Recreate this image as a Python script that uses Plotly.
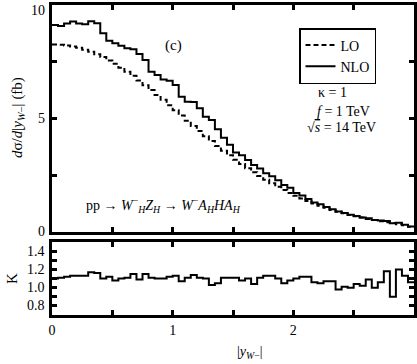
import plotly.graph_objects as go

# bins of |y_W-|
bin_edges = [round(0.05 * i, 2) for i in range(61)]

lo = [8.26, 8.25, 8.22, 8.17, 8.12, 8.03, 7.94, 7.83, 7.71, 7.55,
      7.41, 7.24, 7.06, 6.88, 6.67, 6.46, 6.25, 6.03, 5.82, 5.58,
      5.36, 5.13, 4.90, 4.67, 4.45, 4.22, 4.01, 3.79, 3.58, 3.38,
      3.18, 2.99, 2.81, 2.63, 2.46, 2.30, 2.14, 1.99, 1.85, 1.72,
      1.59, 1.47, 1.36, 1.25, 1.15, 1.06, 0.97, 0.89, 0.82, 0.75,
      0.69, 0.63, 0.57, 0.52, 0.47, 0.43, 0.39, 0.34, 0.29, 0.23]

nlo = [9.12, 9.08, 9.18, 9.27, 9.18, 9.15, 9.28, 9.20, 8.75, 8.43,
       8.31, 8.20, 8.09, 8.05, 7.84, 7.58, 7.06, 6.92, 6.72, 6.66,
       6.48, 5.96, 5.74, 5.72, 5.45, 5.08, 4.93, 4.52, 4.15, 3.84,
       3.50, 3.38, 3.17, 2.95, 2.80, 2.58, 2.45, 2.28, 2.07, 1.95,
       1.72, 1.60, 1.45, 1.30, 1.22, 1.10, 1.00, 0.90, 0.83, 0.76,
       0.70, 0.63, 0.60, 0.53, 0.50, 0.48, 0.38, 0.40, 0.32, 0.24]

k_factor = [1.10, 1.11, 1.12, 1.13, 1.13, 1.13, 1.17, 1.16, 1.10, 1.12,
            1.08, 1.10, 1.11, 1.15, 1.09, 1.15, 1.11, 1.10, 1.10, 1.12,
            1.13, 1.07, 1.11, 1.14, 1.11, 1.10, 1.03, 1.05, 1.11, 1.11,
            1.11, 1.08, 1.10, 1.04, 1.11, 1.13, 1.13, 1.10, 1.05, 1.08,
            1.10, 1.12, 1.12, 1.06, 1.05, 1.07, 1.07, 0.98, 1.01, 1.00,
            1.04, 1.02, 1.09, 1.00, 1.06, 1.18, 0.90, 1.20, 1.13, 1.06]

x_tick_labels = ["0", "", "1", "", "2", "", "3"]
main_y_ticks = [0, 5, 10]
k_y_ticks = [0.8, 1.0, 1.2, 1.4]

FONT = "Liberation Serif"
W, H = 417, 364
ML, MR, MT, MB = 52, 3, 5, 49
PW, PH = W - ML - MR, H - MT - MB
MAIN_DOM = [0.268, 1.0]
K_DOM = [0.0, 0.235]
MAIN_RANGE = [0, 10]
K_RANGE = [0.7, 1.5]


def step(vals):
    return bin_edges, list(vals) + [vals[-1]]


def px(x):
    return (x - ML) / PW


def py(y):
    return (H - MB - y) / PH


fig = go.Figure()
xs, ys = step(lo)
fig.add_trace(go.Scatter(x=xs, y=ys, mode="lines", line_shape="hv", name="LO",
                         line=dict(color="black", width=2, dash="5px,3px"),
                         xaxis="x", yaxis="y"))
xs, ys = step(nlo)
fig.add_trace(go.Scatter(x=xs, y=ys, mode="lines", line_shape="hv", name="NLO",
                         line=dict(color="black", width=2),
                         xaxis="x", yaxis="y"))
xs, ys = step(k_factor)
fig.add_trace(go.Scatter(x=xs, y=ys, mode="lines", line_shape="hv", showlegend=False,
                         line=dict(color="black", width=2),
                         xaxis="x2", yaxis="y2"))

axis_common = dict(showline=True, linecolor="black", linewidth=3, mirror="allticks",
                   ticks="inside", tickcolor="black", tickwidth=2.5, ticklen=5,
                   showgrid=False, zeroline=False, automargin=False,
                   tickfont=dict(family=FONT, size=14, color="black"))

fig.update_layout(
    width=W, height=H,
    margin=dict(l=ML, r=MR, t=MT, b=MB),
    paper_bgcolor="white", plot_bgcolor="white",
    font=dict(family=FONT, size=14, color="black"),
    xaxis=dict(range=[0, 3], domain=[0, 1], anchor="y", showticklabels=False,
               tickvals=[0, 0.5, 1, 1.5, 2, 2.5, 3], **axis_common),
    yaxis=dict(range=MAIN_RANGE, domain=MAIN_DOM, anchor="x", showticklabels=False,
               tickvals=[0, 2.5, 5, 7.5, 10], **axis_common),
    xaxis2=dict(range=[0, 3], domain=[0, 1], anchor="y2",
                tickvals=[0, 0.5, 1, 1.5, 2, 2.5, 3], ticktext=x_tick_labels,
                **axis_common),
    yaxis2=dict(range=K_RANGE, domain=K_DOM, anchor="x2", showticklabels=False,
                tickvals=[0.8, 0.9, 1.0, 1.1, 1.2, 1.3, 1.4],
                **axis_common),
    legend=dict(x=px(299), y=py(28), xanchor="left", yanchor="top",
                bgcolor="white", bordercolor="black", borderwidth=1.5,
                font=dict(family=FONT, size=14, color="black"),
                tracegroupgap=0, itemwidth=30),
)


def dom_y(v, dom, rng):
    return dom[0] + (v - rng[0]) / (rng[1] - rng[0]) * (dom[1] - dom[0])


# y tick labels placed next to the left spine
for v in main_y_ticks:
    yv = dom_y(v, MAIN_DOM, MAIN_RANGE)
    fig.add_annotation(text=str(v), x=px(47), y=yv,
                       xref="paper", yref="paper", showarrow=False,
                       xanchor="right", yanchor="top" if v == 10 else "middle",
                       yshift=4 if v == 10 else 0,
                       font=dict(family=FONT, size=14, color="black"))
for v in k_y_ticks:
    fig.add_annotation(text=f"{v:.1f}", x=px(47), y=dom_y(v, K_DOM, K_RANGE),
                       xref="paper", yref="paper", showarrow=False,
                       xanchor="right", yanchor="middle",
                       font=dict(family=FONT, size=14, color="black"))

ann = [
    dict(text="(c)", x=173, y=45, size=15),
    dict(text="κ = 1", x=332, y=93, size=14),
    dict(text="<i>f</i> = 1 TeV", x=343, y=111, size=14),
    dict(text="√<span style='text-decoration:overline'><i>s</i></span> = 14 TeV", x=341, y=128, size=14),
    dict(text="pp → <i>W</i><sup>−</sup><sub><i>H</i></sub><i>Z</i><sub><i>H</i></sub> → <i>W</i><sup>−</sup><i>A</i><sub><i>H</i></sub><i>HA</i><sub><i>H</i></sub>",
         x=163, y=205, size=14),
    dict(text="|<i>y</i><sub><i>W</i>−</sub>|", x=250, y=352, size=14),
]
for a in ann:
    fig.add_annotation(text=a["text"], x=px(a["x"]), y=py(a["y"]),
                       xref="paper", yref="paper", showarrow=False,
                       xanchor="center", yanchor="middle",
                       font=dict(family=FONT, size=a["size"], color="black"))

fig.add_annotation(text="<i>d</i>σ/<i>d</i>|<i>y</i><sub><i>W</i>−</sub>| (fb)",
                   x=px(18), y=py(118), xref="paper", yref="paper",
                   showarrow=False, textangle=-90, xanchor="center", yanchor="middle",
                   font=dict(family=FONT, size=15, color="black"))
fig.add_annotation(text="K", x=px(12), y=py(279), xref="paper", yref="paper",
                   showarrow=False, textangle=-90, xanchor="center", yanchor="middle",
                   font=dict(family=FONT, size=15, color="black"))

fig.write_html("out.html", config={"displayModeBar": False},
               post_script="document.body.style.margin='0';document.body.style.padding='0';")
